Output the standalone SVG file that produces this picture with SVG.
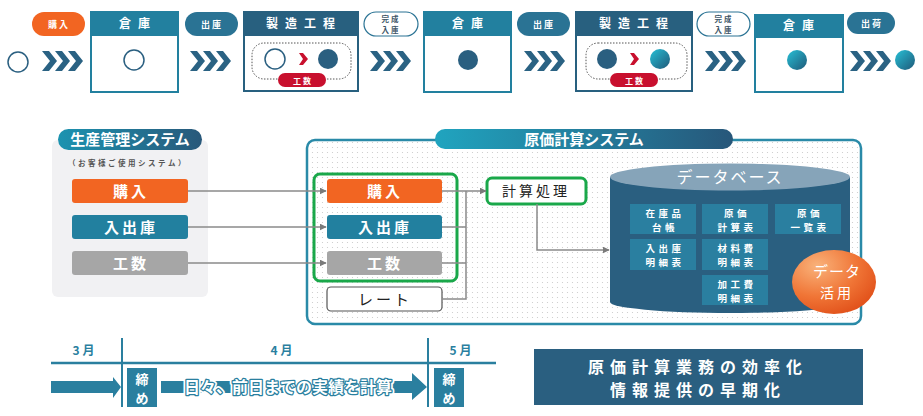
<svg xmlns="http://www.w3.org/2000/svg" width="923" height="416" viewBox="0 0 923 416">
<style>
text{font-family:"Noto Sans CJK JP","Noto Sans",sans-serif;font-weight:bold;}
.hdr{fill:#fff;font-size:12px;letter-spacing:7px;text-anchor:middle;}
.pill{fill:#fff;font-size:9px;letter-spacing:2px;text-anchor:middle;}
.pill2{fill:#3d5566;font-size:7.5px;letter-spacing:2px;text-anchor:middle;}
.btn{fill:#fff;font-size:15px;letter-spacing:3px;text-anchor:middle;}
.cell{fill:#fff;font-size:9.5px;letter-spacing:3.5px;text-anchor:middle;}
.mon{fill:#2a7f9f;font-size:12px;letter-spacing:3px;text-anchor:middle;}
.conn{fill:none;stroke:#8a8a8a;stroke-width:1.5;}
.chev{fill:#2a6283;}
</style>
<defs>
<marker id="ah" viewBox="0 0 10 10" refX="9" refY="5" markerWidth="7" markerHeight="7" markerUnits="userSpaceOnUse" orient="auto"><path d="M0,0 L10,5 L0,10 Z" fill="#7a7a7a"/></marker>
<linearGradient id="gc" x1="0" y1="0" x2="1" y2="1"><stop offset="0" stop-color="#27c0d6"/><stop offset="1" stop-color="#1f5878"/></linearGradient>
<linearGradient id="gt" x1="0" y1="0" x2="1" y2="0"><stop offset="0" stop-color="#1c93b0"/><stop offset="1" stop-color="#29587a"/></linearGradient>
<linearGradient id="gt2" x1="0" y1="0" x2="1" y2="0"><stop offset="0" stop-color="#20a4bf"/><stop offset="1" stop-color="#27577a"/></linearGradient>
<radialGradient id="go" cx="0.3" cy="0.25" r="0.8"><stop offset="0" stop-color="#f9b27a"/><stop offset="0.6" stop-color="#f07536"/><stop offset="1" stop-color="#e2531c"/></radialGradient>
<pattern id="dots" width="5" height="5" patternUnits="userSpaceOnUse"><circle cx="2.5" cy="2.5" r="0.6" fill="#c8c8c8"/></pattern>
<g id="chv"><polygon class="chev" points="0,51 7,51 15,61 7,71 0,71 8,61"/><polygon class="chev" points="13,51 20,51 28,61 20,71 13,71 21,61"/><polygon class="chev" points="26,51 33,51 41,61 33,71 26,71 34,61"/></g>
</defs>
<rect width="923" height="416" fill="#fff"/>

<!-- Top flow -->
<g id="flow-top">
<circle cx="18" cy="62" r="10" fill="#fff" stroke="#2a5f80" stroke-width="1.5"/>
<g id="pill-kounyu"><rect x="32" y="12" width="53" height="24" rx="12" fill="#f26522"/><text class="pill" x="59" y="28">購入</text></g>
<use href="#chv" x="42"/>
<g id="soko1"><rect x="91" y="35" width="87" height="57" fill="#fff" stroke="#22809f" stroke-width="2"/><rect x="90" y="11" width="89" height="24" fill="#22809f"/><text class="hdr" x="138" y="28">倉庫</text><circle cx="134" cy="60" r="10" fill="#fff" stroke="#2a5f80" stroke-width="1.5"/></g>
<g id="pill-shukko1"><rect x="185" y="12" width="53" height="24" rx="12" fill="#2a7394"/><text class="pill" x="212" y="28">出庫</text></g>
<use href="#chv" x="190"/>
<g id="seizo1"><rect x="244" y="35" width="114" height="56" fill="#fff" stroke="#28607f" stroke-width="2"/><rect x="243" y="11" width="116" height="24" fill="#28607f"/><text class="hdr" x="304" y="28">製造工程</text>
<rect x="252" y="43" width="99" height="36" rx="12" fill="none" stroke="#555" stroke-width="1" stroke-dasharray="1.5,1.5"/>
<circle cx="275" cy="59" r="10" fill="#fff" stroke="#2a5f80" stroke-width="1.5"/>
<polygon points="299,53 303,53 308,59 303,65 299,65 303,59" fill="#c8102e"/>
<circle cx="328" cy="59" r="10" fill="#2a5f80"/>
<rect x="278" y="73" width="48" height="14" rx="7" fill="#c8102e"/><text class="pill" x="303" y="84" style="font-size:8px">工数</text></g>
<g id="kansei1"><rect x="364" y="12" width="54" height="24" rx="12" fill="#fff" stroke="#2a7394" stroke-width="1.2"/><text class="pill2" x="391" y="22">完成</text><text class="pill2" x="391" y="33">入庫</text></g>
<use href="#chv" x="370"/>
<g id="soko2"><rect x="424" y="35" width="87" height="57" fill="#fff" stroke="#22809f" stroke-width="2"/><rect x="423" y="11" width="89" height="24" fill="#22809f"/><text class="hdr" x="471" y="28">倉庫</text><circle cx="468" cy="60" r="10" fill="#2a5f80"/></g>
<g id="pill-shukko2"><rect x="517" y="12" width="53" height="24" rx="12" fill="#2a7394"/><text class="pill" x="544" y="28">出庫</text></g>
<use href="#chv" x="524"/>
<g id="seizo2"><rect x="576" y="35" width="116" height="56" fill="#fff" stroke="#28607f" stroke-width="2"/><rect x="575" y="11" width="118" height="24" fill="#28607f"/><text class="hdr" x="637" y="28">製造工程</text>
<rect x="586" y="43" width="101" height="36" rx="12" fill="none" stroke="#555" stroke-width="1" stroke-dasharray="1.5,1.5"/>
<circle cx="607" cy="59" r="10" fill="#2a5f80"/>
<polygon points="630,53 634,53 639,59 634,65 630,65 634,59" fill="#c8102e"/>
<circle cx="660" cy="59" r="10" fill="url(#gc)"/>
<rect x="610" y="73" width="48" height="14" rx="7" fill="#c8102e"/><text class="pill" x="635" y="84" style="font-size:8px">工数</text></g>
<g id="kansei2"><rect x="697" y="12" width="53" height="24" rx="12" fill="#fff" stroke="#2a7394" stroke-width="1.2"/><text class="pill2" x="724" y="22">完成</text><text class="pill2" x="724" y="33">入庫</text></g>
<use href="#chv" x="705"/>
<g id="soko3"><rect x="755" y="37" width="88" height="55" fill="#fff" stroke="#22809f" stroke-width="2"/><rect x="754" y="14" width="90" height="23" fill="#22809f"/><text class="hdr" x="802" y="30">倉庫</text><circle cx="797" cy="60" r="10" fill="url(#gc)"/></g>
<g id="pill-shukka"><rect x="847" y="12" width="48" height="22" rx="11" fill="#2a7394"/><text class="pill" x="872" y="27">出荷</text></g>
<use href="#chv" x="850"/>
<circle cx="905" cy="60" r="10" fill="url(#gc)"/>
</g>

<!-- Production management system -->
<g id="seisan-system">
<rect x="52" y="140" width="156" height="157" rx="6" fill="#f1f1f3"/>
<rect x="58" y="129" width="144" height="21" rx="10.5" fill="url(#gt)"/>
<text x="130" y="145" style="fill:#fff;font-size:15px;text-anchor:middle">生産管理システム</text>
<text x="128" y="166" style="fill:#555;font-size:7.5px;letter-spacing:2.5px;text-anchor:middle">（お客様ご使用システム）</text>
</g>
<g id="s-kounyu"><rect x="72" y="179" width="116" height="24" rx="3" fill="#f26522"/><text class="btn" x="131" y="197">購入</text></g>
<g id="s-nyushukko"><rect x="72" y="215" width="116" height="24" rx="3" fill="#22809f"/><text class="btn" x="131" y="233">入出庫</text></g>
<g id="s-kousu"><rect x="72" y="251" width="116" height="24" rx="3" fill="#a6a6a6"/><text class="btn" x="131" y="269">工数</text></g>

<!-- Cost system panel -->
<g id="genka-system">
<rect x="307" y="140" width="554" height="184" rx="8" fill="#fff" stroke="#2a8aa8" stroke-width="2.5"/>
<rect x="309" y="142" width="550" height="180" rx="7" fill="url(#dots)"/>
<rect x="435" y="129" width="298" height="20" rx="10" fill="url(#gt2)"/>
<text x="584" y="145" style="fill:#fff;font-size:15px;text-anchor:middle">原価計算システム</text>
</g>
<g id="green-box"><rect x="314" y="174" width="143" height="107" rx="6" fill="none" stroke="#1aa84a" stroke-width="3"/></g>
<g id="c-kounyu"><rect x="327" y="179" width="115" height="24" rx="3" fill="#f26522"/><text class="btn" x="385" y="197">購入</text></g>
<g id="c-nyushukko"><rect x="327" y="215" width="115" height="24" rx="3" fill="#22809f"/><text class="btn" x="385" y="233">入出庫</text></g>
<g id="c-kousu"><rect x="327" y="251" width="115" height="24" rx="3" fill="#a6a6a6"/><text class="btn" x="385" y="269">工数</text></g>
<g id="c-rate"><rect x="327" y="287" width="115" height="24" rx="4" fill="#fff" stroke="#555" stroke-width="1.2"/><text class="btn" x="385" y="305" style="fill:#222;font-weight:normal">レート</text></g>
<g id="keisan"><rect x="487" y="178" width="99" height="26" rx="5" fill="#fff" stroke="#1aa84a" stroke-width="3"/><text x="536" y="196" style="fill:#222;font-size:14px;letter-spacing:3px;text-anchor:middle;font-weight:normal">計算処理</text></g>

<!-- Database -->
<g id="database">
<path d="M610,177 L610,302 A120,11 0 0 0 850,302 L850,177 Z" fill="#2a5f80"/>
<ellipse cx="730" cy="177" rx="120" ry="13.5" fill="#86a4b9"/>
<text x="730" y="183" style="fill:#fff;font-size:16px;font-weight:normal;letter-spacing:2px;text-anchor:middle">データベース</text>
<rect x="630" y="204" width="66" height="30" fill="#2a7fa0"/><text class="cell" x="665" y="216.5">在庫品</text><text class="cell" x="665" y="230.5">台帳</text>
<rect x="702" y="204" width="66" height="30" fill="#2a7fa0"/><text class="cell" x="737" y="216.5">原価</text><text class="cell" x="737" y="230.5">計算表</text>
<rect x="775" y="204" width="66" height="30" fill="#2a7fa0"/><text class="cell" x="810" y="216.5">原価</text><text class="cell" x="810" y="230.5">一覧表</text>
<rect x="630" y="239" width="66" height="31" fill="#2a7fa0"/><text class="cell" x="665" y="251.5">入出庫</text><text class="cell" x="665" y="265.5">明細表</text>
<rect x="702" y="239" width="66" height="31" fill="#2a7fa0"/><text class="cell" x="737" y="251.5">材料費</text><text class="cell" x="737" y="265.5">明細表</text>
<rect x="702" y="275" width="66" height="30" fill="#2a7fa0"/><text class="cell" x="737" y="287.5">加工費</text><text class="cell" x="737" y="301.5">明細表</text>
</g>
<g id="data-katsuyo"><ellipse cx="834" cy="282" rx="42" ry="32" fill="url(#go)"/><text x="837" y="277" style="fill:#fff;font-size:15px;font-weight:normal;text-anchor:middle;letter-spacing:1px">データ</text><text x="837" y="298" style="fill:#fff;font-size:14px;font-weight:normal;text-anchor:middle;letter-spacing:3px">活用</text></g>

<!-- Connectors -->
<g id="connectors">
<line class="conn" x1="188" y1="191" x2="326" y2="191" marker-end="url(#ah)"/>
<line class="conn" x1="188" y1="227" x2="326" y2="227" marker-end="url(#ah)"/>
<line class="conn" x1="188" y1="263" x2="326" y2="263" marker-end="url(#ah)"/>
<line class="conn" x1="442" y1="191" x2="486" y2="191" marker-end="url(#ah)"/>
<polyline class="conn" points="442,227 466,227"/>
<polyline class="conn" points="442,263 466,263"/>
<polyline class="conn" points="442,299 466,299 466,191"/>
<polyline class="conn" points="537,204 537,250 609,250" marker-end="url(#ah)"/>
</g>

<!-- Timeline -->
<g id="timeline">
<text class="mon" x="85" y="355">3月</text>
<text class="mon" x="283" y="355">4月</text>
<text class="mon" x="462" y="355">5月</text>
<line x1="51" y1="363" x2="496" y2="363" stroke="#2a7f9f" stroke-width="2.5"/>
<line x1="122" y1="338" x2="122" y2="407" stroke="#2a7f9f" stroke-width="2"/>
<line x1="428" y1="338" x2="428" y2="407" stroke="#2a7f9f" stroke-width="2"/>
<polygon points="51,381 113,381 113,377 121,387 113,398 113,393 51,393" fill="#2a7f9f"/>
<g id="shime1"><rect x="127" y="368" width="30" height="39" fill="#2a7f9f"/><text x="142" y="384" style="fill:#fff;font-size:13px;text-anchor:middle">締</text><text x="142" y="403" style="fill:#fff;font-size:13px;text-anchor:middle">め</text></g>
<polygon points="161,381 412,381 412,373 427,387 412,400 412,393 161,393" fill="#2a7f9f"/>
<text x="288" y="393" style="font-size:16px;text-anchor:middle;fill:#fff;stroke:#fff;stroke-width:6;stroke-linejoin:round">日々、前日までの実績を計算</text>
<text x="288" y="393" style="font-size:16px;text-anchor:middle;fill:#fff;stroke:#2a7f9f;stroke-width:2.5;stroke-linejoin:round;paint-order:stroke">日々、前日までの実績を計算</text>
<g id="shime2"><rect x="434" y="368" width="30" height="39" fill="#2a7f9f"/><text x="449" y="384" style="fill:#fff;font-size:13px;text-anchor:middle">締</text><text x="449" y="403" style="fill:#fff;font-size:13px;text-anchor:middle">め</text></g>
</g>

<g id="result"><rect x="534" y="349" width="329" height="56" fill="#2a5f80"/>
<text x="698" y="373" style="fill:#fff;font-size:16px;letter-spacing:6px;text-anchor:middle">原価計算業務の効率化</text>
<text x="698" y="396" style="fill:#fff;font-size:16px;letter-spacing:6px;text-anchor:middle">情報提供の早期化</text></g>
</svg>
